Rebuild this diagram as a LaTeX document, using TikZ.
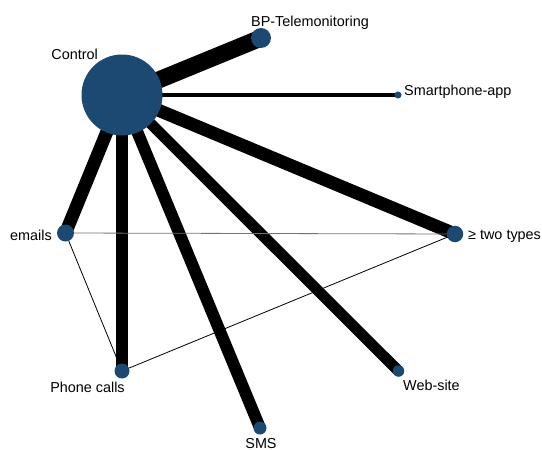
\documentclass[tikz,border=0pt]{standalone}
\usepackage{fontspec}
\setmainfont{Liberation Sans}
\usepackage{tikz}
\usetikzlibrary{backgrounds}
\definecolor{netblue}{RGB}{27,73,114}
\tikzstyle{treatment} = [circle, fill=netblue, inner sep=0pt]
\tikzstyle{tag} = [inner sep=0pt, font=\fontsize{14.4}{17}\selectfont]
\tikzstyle{direct} = [black, line cap=butt]
\tikzstyle{indirect} = [black, line width=0.8pt]

\begin{document}
\begin{tikzpicture}[x=1pt, y=-1pt]
        \useasboundingbox (0,0) rectangle (542,450);
        \node (control) [treatment, minimum size=81pt] at (122,95) {};
        \node (bp) [treatment, minimum size=20pt] at (261,38) {};
        \node (smartphone) [treatment, minimum size=7pt] at (398,95) {};
        \node (emails) [treatment, minimum size=17pt] at (65.5,233) {};
        \node (phone) [treatment, minimum size=15pt] at (122,371) {};
        \node (two-types) [treatment, minimum size=16.5pt] at (455,234) {};
        \node (website) [treatment, minimum size=11.5pt] at (398.5,371) {};
        \node (sms) [treatment, minimum size=13pt] at (260,428) {};
        \node (control-lbl) [tag, anchor=base east, xshift=-24pt, yshift=35.7pt] at (control.center) {Control};
        \node (bp-lbl) [tag, anchor=base west, xshift=-10pt, yshift=11.5pt] at (bp.center) {BP-Telemonitoring};
        \node (smartphone-lbl) [tag, anchor=base west, xshift=6pt, yshift=-0.5pt] at (smartphone.center) {Smartphone-app};
        \node (emails-lbl) [tag, anchor=base east, xshift=-13.5pt, yshift=-7pt] at (emails.center) {emails};
        \node (phone-lbl) [tag, anchor=base, xshift=-34.5pt, yshift=-21.7pt] at (phone.center) {Phone calls};
        \node (two-types-lbl) [tag, anchor=base west, xshift=13pt, yshift=-5.5pt] at (two-types.center) {≥ two types};
        \node (website-lbl) [tag, anchor=base west, xshift=4.5pt, yshift=-19pt] at (website.center) {Web-site};
        \node (sms-lbl) [tag, anchor=base, xshift=1pt, yshift=-20.3pt] at (sms.center) {SMS};
        \begin{scope}[on background layer]
            \draw [direct, line width=17pt] (control.center) -- (bp.center);
            \draw [direct, line width=4pt] (control.center) -- (smartphone.center);
            \draw [direct, line width=13pt] (control.center) -- (emails.center);
            \draw [direct, line width=11.5pt] (control.center) -- (phone.center);
            \draw [direct, line width=13pt] (control.center) -- (two-types.center);
            \draw [direct, line width=11pt] (control.center) -- (website.center);
            \draw [direct, line width=12pt] (control.center) -- (sms.center);
            \draw [indirect, black!55] (emails.center) -- (two-types.center);
            \draw [indirect] (emails.center) -- (phone.center);
            \draw [indirect] (phone.center) -- (two-types.center);
        \end{scope}
    \end{tikzpicture}
\end{document}
